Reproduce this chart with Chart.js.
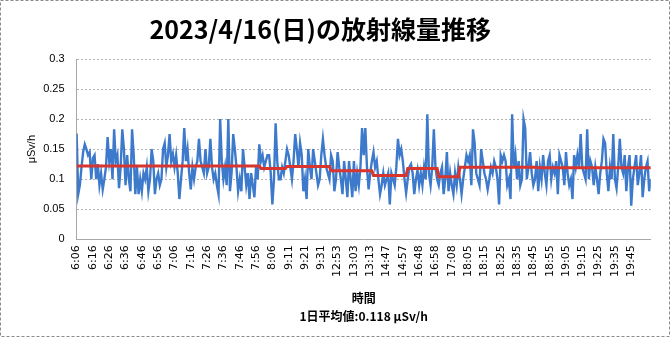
<!DOCTYPE html>
<html>
<head>
<meta charset="utf-8">
<script src="https://cdn.jsdelivr.net/npm/chart.js@4"></script>
<style>body{margin:0;background:#fff}</style>
</head>
<body>
<canvas id="mylinechart" width="670" height="337"></canvas>
<script>
const chartTitle = '2023/4/16(日)の放射線量推移'

// time labels shown every 10 readings
const tickLabels = ['6:06','6:16','6:26','6:36','6:46','6:56','7:06','7:16','7:26','7:36','7:46','7:56','8:06','9:11','9:21','9:31',
    '12:53','13:03','13:13','14:47','14:57','16:48','16:58','17:08','18:05','18:15','18:25','18:35','18:45','18:55',
    '19:05','19:15','19:25','19:35','19:45']

// measured dose (μSv/h), one per reading
const doseValues = [
    0.176,0.075,0.09,0.12,0.145,0.158,0.15,0.14,0.145,
    0.10,0.135,0.14,0.10,0.125,0.09,0.11,0.083,0.10,0.12,
    0.17,0.13,0.15,0.10,0.183,0.13,0.14,0.085,0.12,
    0.183,0.15,0.09,0.14,0.10,0.08,0.183,0.14,0.075,0.12,
    0.075,0.10,0.08,0.11,0.10,0.12,0.08,0.10,0.15,
    0.13,0.075,0.10,0.11,0.09,0.10,0.15,0.16,0.12,0.14,
    0.175,0.13,
    0.142,0.12,0.14,0.11,0.067,0.10,0.13,0.185,0.13,
    0.15,0.11,0.083,0.12,0.10,0.12,0.13,0.167,0.13,
    0.12,0.11,0.15,0.11,0.12,0.167,0.12,0.10,0.11,0.09,
    0.075,0.20,0.13,0.10,0.12,0.09,0.20,0.08,0.11,0.175,
    0.15,0.12,0.08,0.10,0.08,0.15,0.12,0.09,0.11,0.067,
    0.11,0.09,0.07,0.12,0.10,0.158,0.13,0.14,0.12,
    0.13,0.14,
    0.14,0.11,0.058,0.10,0.193,0.13,0.10,0.10,0.12,
    0.11,0.13,0.15,0.14,0.12,0.10,0.13,0.175,0.15,
    0.12,0.16,0.14,0.08,0.10,0.067,0.15,0.12,0.10,0.15,
    0.13,0.11,0.09,0.10,0.14,0.167,0.14,0.12,0.11,
    0.10,0.14,0.13,0.08,0.10,0.145,0.12,0.10,0.075,0.13,
    0.10,0.07,0.13,0.10,0.07,0.13,0.08,0.11,0.09,0.12,
    0.185,0.14,
    0.185,0.12,0.083,0.11,0.13,0.145,0.12,0.13,0.10,0.075,
    0.09,0.11,0.09,0.10,0.11,0.058,0.11,0.10,0.09,
    0.12,0.167,0.14,0.15,0.13,0.10,0.077,0.10,0.12,0.125,
    0.11,0.075,0.10,0.115,0.09,0.11,0.09,0.12,0.10,
    0.208,0.11,0.09,0.12,0.183,0.12,0.10,0.09,0.11,
    0.12,0.075,0.10,0.145,0.08,0.11,0.09,0.075,0.11,0.09,
    0.12,0.10,
    0.075,0.10,0.12,0.14,0.13,0.14,0.09,0.183,0.16,
    0.11,0.10,0.09,0.15,0.13,0.11,0.10,0.083,0.10,0.12,
    0.11,0.13,0.12,0.10,0.058,0.14,0.13,0.14,0.13,
    0.09,0.10,0.067,0.208,0.12,0.14,0.10,0.13,0.09,0.10,
    0.20,0.185,0.10,0.12,0.145,0.11,0.09,0.10,0.13,0.08,
    0.12,0.10,0.14,0.11,0.09,0.13,0.14,0.10,0.12,
    0.11,0.13,
    0.075,0.14,0.13,0.12,0.09,0.145,0.11,0.09,0.10,
    0.067,0.14,0.12,0.14,0.12,0.175,0.12,0.11,0.10,
    0.183,0.10,0.13,0.12,0.09,0.12,0.10,0.075,0.11,0.13,
    0.167,0.16,0.11,0.08,0.12,0.10,0.175,0.10,0.085,0.12,
    0.167,0.12,0.11,0.14,0.08,0.12,0.14,0.056,0.10,0.12,
    0.14,0.09,0.11,0.14,0.07,0.10,0.12,0.13,0.08,0.10
]

// hourly average: reading index where each level starts, and its value
const avgStart = [0, 113, 129, 156, 182, 203, 222, 235, 283]
const avgValue = [0.122, 0.118, 0.121, 0.114, 0.106, 0.118, 0.104, 0.12, 0.119]

const yTicks = [0, 0.05, 0.1, 0.15, 0.2, 0.25, 0.3]

const lastIndex = doseValues.length - 1

// each level runs from its start to the reading before the next start
let avgPoints = []
avgStart.forEach(function(s, i){
    let end = i < avgStart.length - 1 ? avgStart[i + 1] - 1 : lastIndex
    avgPoints.push({x: s, y: avgValue[i]})
    avgPoints.push({x: end, y: avgValue[i]})
})

// white background, dashed outer frame, and the title (Excel centres it a bit left of the canvas middle)
const frameBorder = {
    id: 'frameBorder',
    beforeDraw(chart){
        const ctx = chart.ctx
        ctx.save()
        ctx.fillStyle = '#fff'
        ctx.fillRect(0, 0, chart.width, chart.height)
        ctx.restore()
    },
    afterDraw(chart){
        const ctx = chart.ctx
        ctx.save()
        ctx.strokeStyle = '#8a8a8a'
        ctx.setLineDash([3, 2])
        ctx.strokeRect(0.5, 0.5, chart.width - 1, chart.height - 1)
        ctx.setLineDash([])
        ctx.fillStyle = '#000'
        ctx.font = 'bold 25px "Noto Sans CJK JP", sans-serif'
        ctx.textAlign = 'center'
        ctx.textBaseline = 'middle'
        ctx.fillText(chartTitle, chart.width * 0.478, 29)
        ctx.restore()
    }
}

function drawlinechart(){
    const canvas = document.getElementById('mylinechart')
    new Chart(canvas, {
        type: 'line',
        data: {
            datasets: [{
                label: '平均',
                data: avgPoints,
                borderColor: '#d8352f',
                borderWidth: 3,
                pointRadius: 0,
                order: 0
            }, {
                label: '線量',
                data: doseValues.map(function(v, i){ return {x: i, y: v} }),
                borderColor: '#3d7acb',
                borderWidth: 2.4,
                pointRadius: 0,
                tension: 0,
                order: 1
            }]
        },
        options: {
            responsive: false,
            animation: false,
            devicePixelRatio: 1,
            layout: { padding: { left: 25, right: 13, top: 59, bottom: 12 } },
            plugins: {
                legend: { display: false },
                tooltip: { enabled: false },
                title: { display: false }
            },
            scales: {
                x: {
                    type: 'linear',
                    min: 0,
                    max: lastIndex,
                    grid: { display: false, drawTicks: false },
                    border: { display: true, color: '#a8a8a8' },
                    ticks: {
                        stepSize: 10,
                        autoSkip: false,
                        minRotation: 90,
                        maxRotation: 90,
                        color: '#000',
                        padding: 6,
                        font: { family: '"DejaVu Sans", sans-serif', size: 11 },
                        callback: function(v){
                            if (v % 10 !== 0) return ''
                            return tickLabels[v / 10] || ''
                        }
                    },
                    title: {
                        display: true,
                        text: ['時間', '1日平均値:0.118 μSv/h'],
                        color: '#000',
                        font: { family: '"Noto Sans CJK JP", sans-serif', size: 12, weight: 'bold', lineHeight: 1.5 },
                        padding: { top: 6, bottom: 0 }
                    }
                },
                y: {
                    min: 0,
                    max: 0.3,
                    afterBuildTicks: function(axis){
                        axis.ticks = yTicks.map(function(v){ return {value: v} })
                    },
                    grid: { color: '#b4b4b4', drawTicks: false },
                    border: { display: true, color: '#a8a8a8', dash: [2, 2] },
                    ticks: {
                        color: '#000',
                        padding: 12,
                        font: { family: '"Liberation Sans", sans-serif', size: 11 },
                        callback: function(v){ return String(Math.round(v * 100) / 100) }
                    },
                    title: {
                        display: true,
                        text: 'μSv/h',
                        color: '#000',
                        font: { family: '"Liberation Sans", sans-serif', size: 11 },
                        padding: { top: 0, bottom: -7 }
                    }
                }
            }
        },
        plugins: [frameBorder]
    })
}

drawlinechart()
</script>
</body>
</html>
